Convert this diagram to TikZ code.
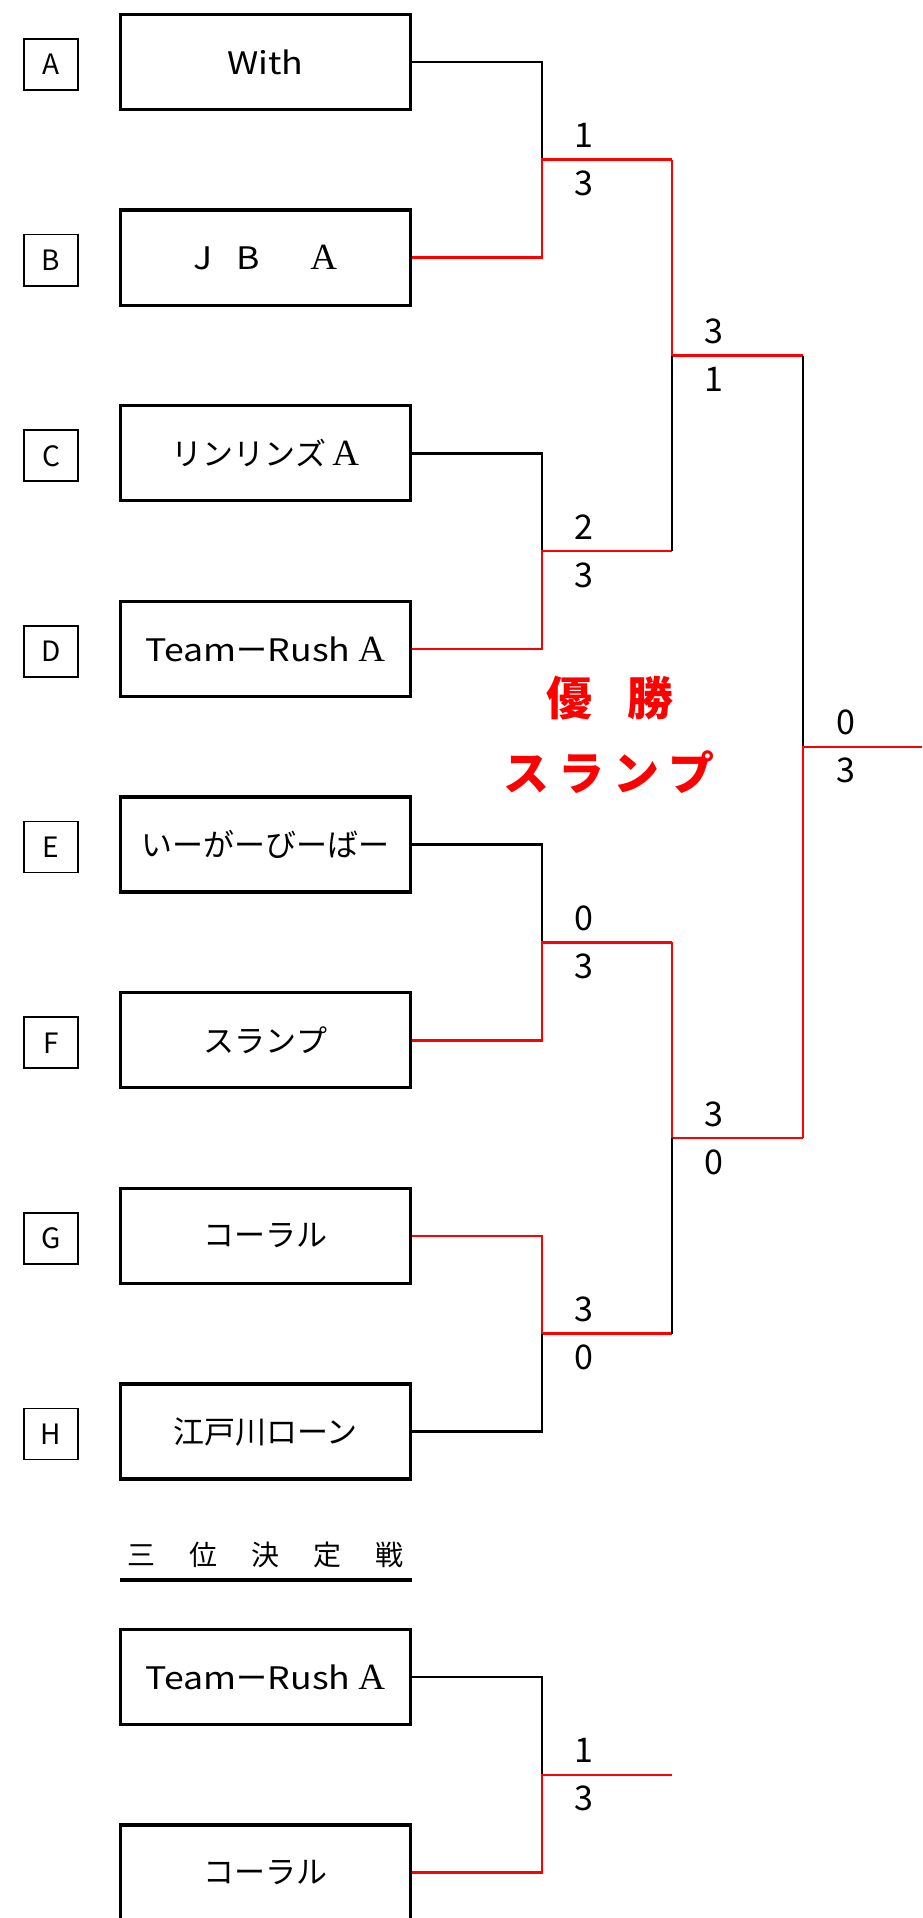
\documentclass[tikz,border=0pt]{standalone}
\usepackage{fontspec}
\usepackage{graphicx}
\setmainfont{Noto Sans CJK JP}
\newfontfamily\serifA{Liberation Serif}
\newcommand{\SA}{{\serifA\fontsize{37}{37}\selectfont A}}
\newcommand{\LW}[1]{\scalebox{1.15}[1]{#1}}
\begin{document}
\begin{tikzpicture}[x=1pt,y=-1pt,
  team/.style={draw,line width=3.3pt,minimum width=290pt,minimum height=95pt,inner sep=0pt,font=\fontsize{31}{31}\selectfont},
  letter/.style={draw,line width=1.7pt,minimum width=54pt,minimum height=51pt,inner sep=0pt,font=\fontsize{28}{28}\selectfont},
  score/.style={font=\fontsize{34}{34}\selectfont,inner sep=0pt},
  lose/.style={draw=black,line width=2.6pt},
  win/.style={draw=red,line width=2.6pt},
  title/.style={text=red,inner sep=0pt,font=\fontsize{46}{46}\selectfont\bfseries}]
\fill[white] (0,0) rectangle (922,1918);
\useasboundingbox (0,0) rectangle (922,1918);
% letter boxes
\node[letter] (l1) at (51,64.5) {A};
\node[letter] (l2) at (51,260.15) {B};
\node[letter] (l3) at (51,455.8) {C};
\node[letter] (l4) at (51,651.45) {D};
\node[letter] (l5) at (51,847.1) {E};
\node[letter] (l6) at (51,1042.75) {F};
\node[letter] (l7) at (51,1238.4) {G};
\node[letter] (l8) at (51,1434.05) {H};
% team boxes
\node[team] (t1) at (265.5,62) {\LW{With}};
\node[team] (t2) at (265.5,257.65) {\LW{J}\hspace{24pt}\LW{B}\hspace{50pt}\SA};
\node[team] (t3) at (265.5,453.3) {リンリンズ\hspace{6pt}\SA};
\node[team] (t4) at (265.5,648.95) {\LW{Team}ー\LW{Rush}\hspace{8pt}\SA};
\node[team] (t5) at (265.5,844.6) {いーがーびーばー};
\node[team] (t6) at (265.5,1040.25) {スランプ};
\node[team] (t7) at (265.5,1235.9) {コーラル};
\node[team] (t8) at (265.5,1431.55) {江戸川ローン};
% coordinates
\coordinate (j1) at (542,159.8);
\coordinate (j2) at (542,551.1);
\coordinate (j3) at (542,942.4);
\coordinate (j4) at (542,1333.7);
\coordinate (w1) at (672,159.8);
\coordinate (w2) at (672,551.1);
\coordinate (w3) at (672,942.4);
\coordinate (w4) at (672,1333.7);
\coordinate (k1) at (672,355.5);
\coordinate (k2) at (672,1138);
\coordinate (f1) at (803,355.5);
\coordinate (f2) at (803,1138);
\coordinate (fj) at (803,746.8);
\coordinate (fe) at (922,746.8);
% round 1
\draw[lose] (t1.east) -| (j1);
\draw[win] (t2.east) -| (j1) -- (w1);
\draw[lose] (t3.east) -| (j2);
\draw[win] (t4.east) -| (j2) -- (w2);
\draw[lose] (t5.east) -| (j3);
\draw[win] (t6.east) -| (j3) -- (w3);
\draw[win] (t7.east) -| (j4) -- (w4);
\draw[lose] (t8.east) -| (j4);
% round 2
\draw[win] (w1) -- (k1) -- (f1);
\draw[lose] (w2) -- (k1);
\draw[win] (w3) -- (k2) -- (f2);
\draw[lose] (w4) -- (k2);
% final
\draw[lose] (f1) -- (fj);
\draw[win] (f2) -- (fj) -- (fe);
% scores
\node[score] (s1a) at (583.5,135.8) {1};
\node[score] (s1b) at (583.5,183.8) {3};
\node[score] (s2a) at (583.5,527.1) {2};
\node[score] (s2b) at (583.5,575.1) {3};
\node[score] (s3a) at (583.5,918.4) {0};
\node[score] (s3b) at (583.5,966.4) {3};
\node[score] (s4a) at (583.5,1309.7) {3};
\node[score] (s4b) at (583.5,1357.7) {0};
\node[score] (s5a) at (714,331.5) {3};
\node[score] (s5b) at (714,379.5) {1};
\node[score] (s6a) at (714,1114) {3};
\node[score] (s6b) at (714,1162) {0};
\node[score] (s7a) at (846,722.8) {0};
\node[score] (s7b) at (846,770.8) {3};
% champion
\node[title] (ch1) at (610,698.5) {優\hspace{36pt}勝};
\node[title] (ch2) at (609,772.5) {ス\hspace{9pt}ラ\hspace{9pt}ン\hspace{9pt}プ};
% third place
\node[inner sep=0pt,font=\fontsize{28}{28}\selectfont] (tp) at (265.8,1555) {三\hspace{34pt}位\hspace{34pt}決\hspace{34pt}定\hspace{34pt}戦};
\coordinate (u1) at (120,1580);
\coordinate (u2) at (412,1580);
\draw[line width=3.3pt] (u1) -- (u2);
\node[team] (p1) at (265.5,1677) {\LW{Team}ー\LW{Rush}\hspace{8pt}\SA};
\node[team] (p2) at (265.5,1872.6) {コーラル};
\coordinate (j9) at (542,1774.8);
\coordinate (w9) at (672,1774.8);
\draw[lose] (p1.east) -| (j9);
\draw[win] (p2.east) -| (j9) -- (w9);
\node[score] (s9a) at (583.5,1750.8) {1};
\node[score] (s9b) at (583.5,1798.8) {3};
\end{tikzpicture}
\end{document}
